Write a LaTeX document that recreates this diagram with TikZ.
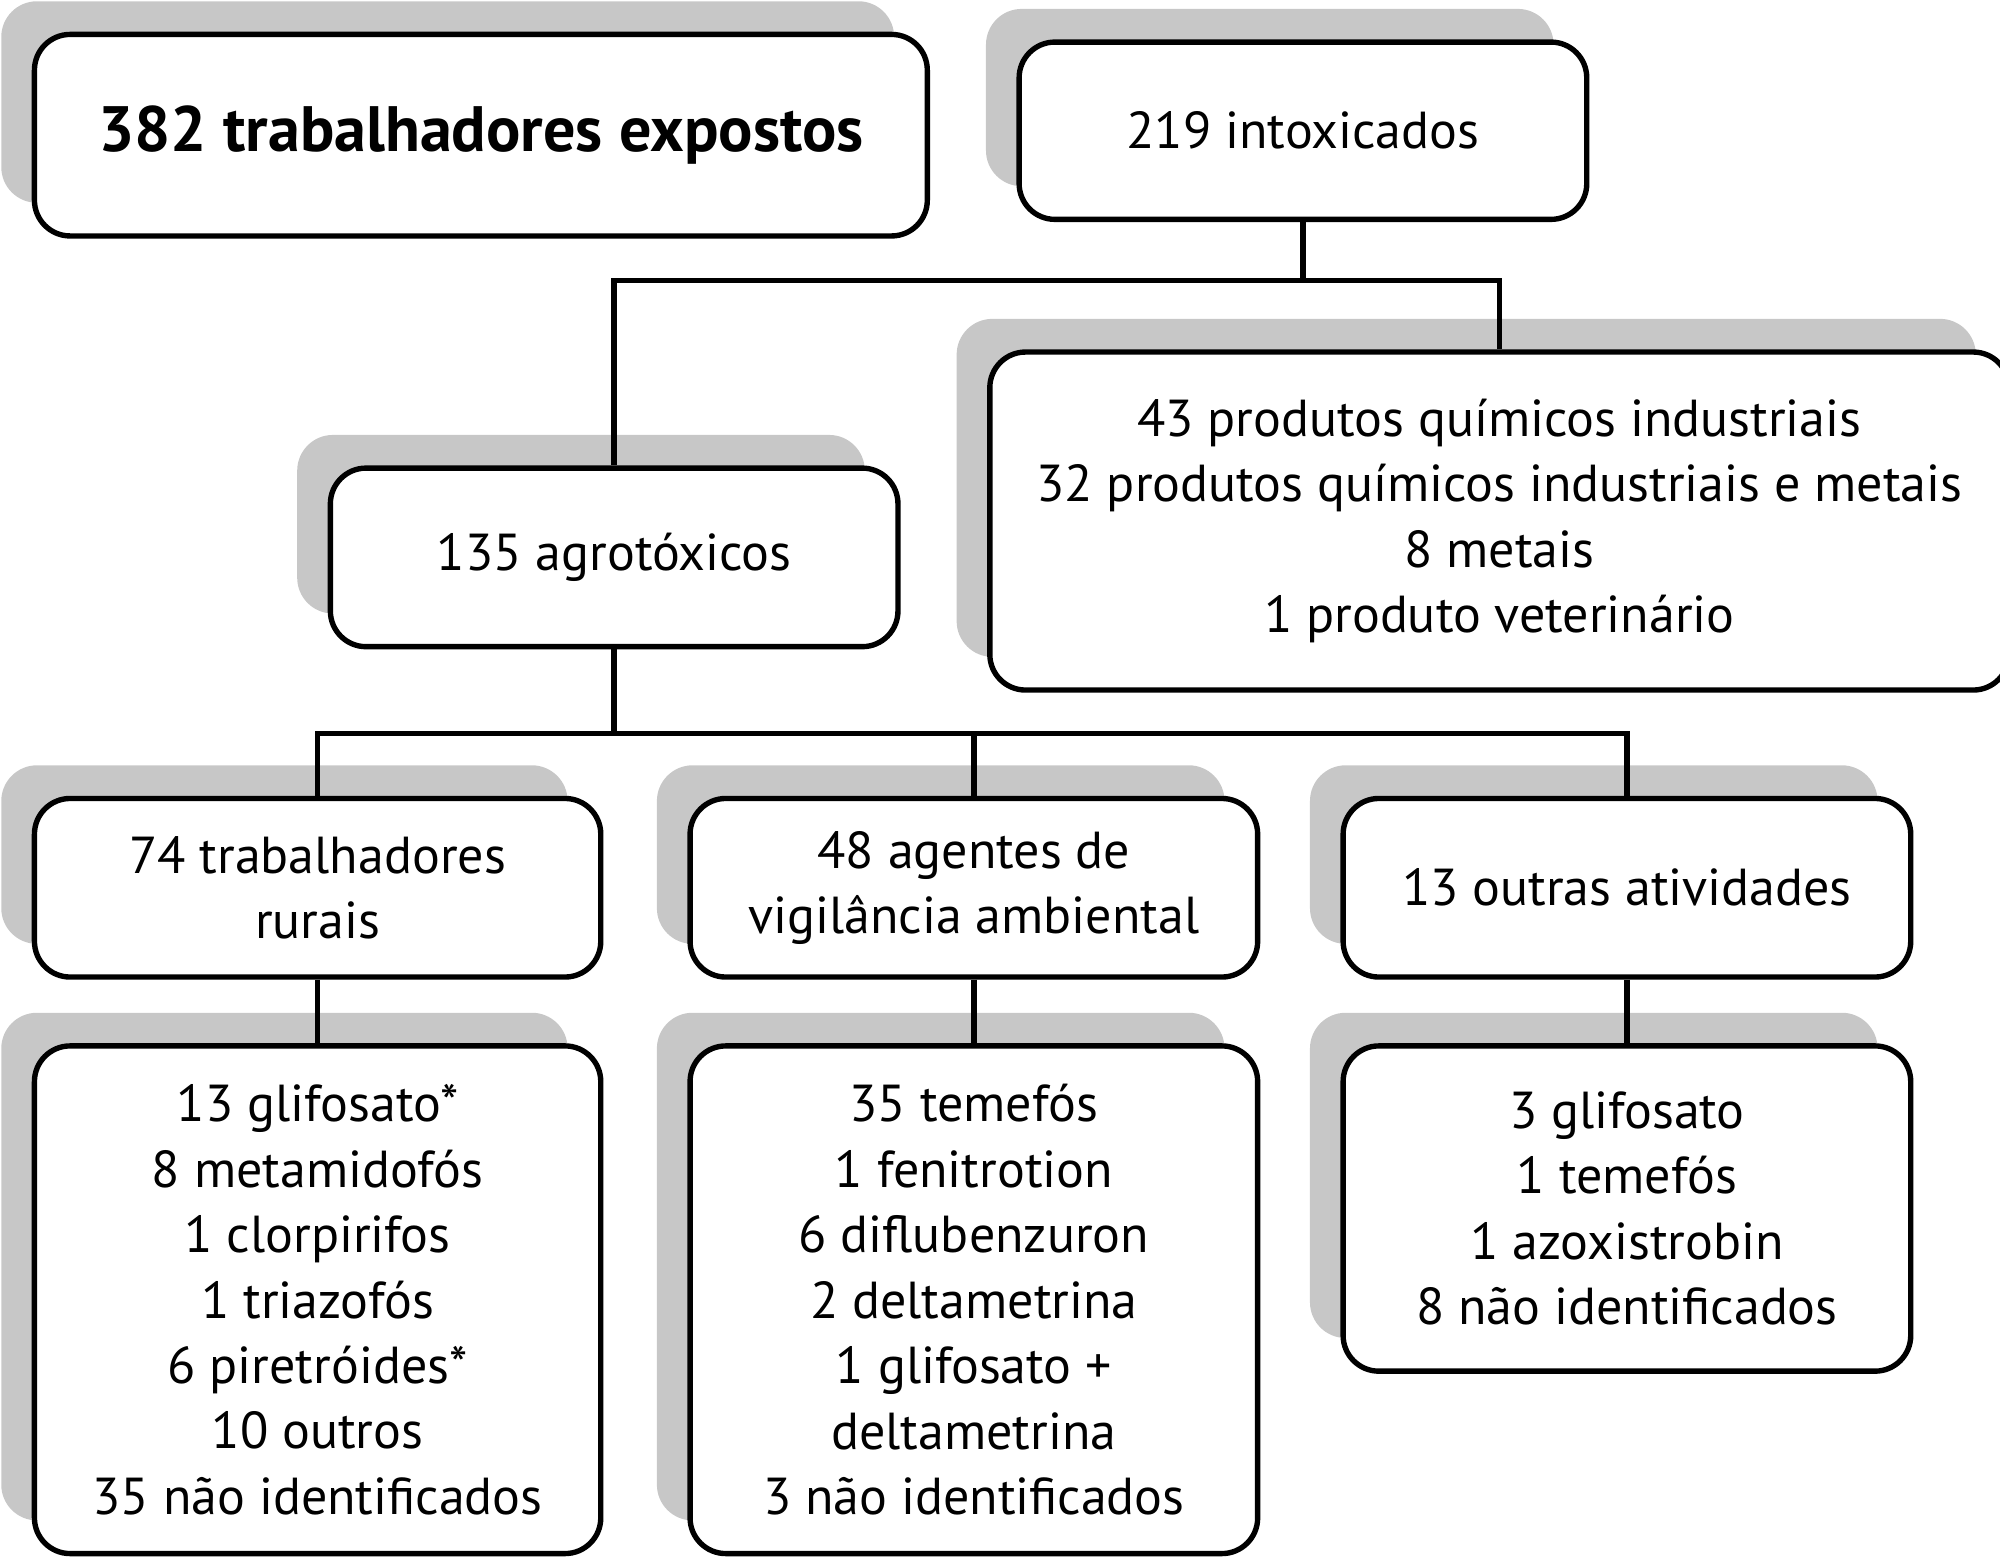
\documentclass[tikz,border=0pt]{standalone}
\usepackage{fontspec}
\setmainfont{PT Sans}
\usetikzlibrary{shadows}
\begin{document}
\begin{tikzpicture}[
    box/.style={draw, line width=1.2pt, rounded corners=0.28cm, fill=white, align=center,
      inner sep=0pt, font=\fontsize{11.6}{14.6}\selectfont,
      drop shadow={shadow xshift=-0.26cm, shadow yshift=0.26cm, fill=black!22, opacity=1}},
    link/.style={line width=1.2pt}
  ]
        \useasboundingbox (0,0) rectangle (15.68,-12.22);

        % ---------- top row ----------
        \node[box, minimum width=7cm, minimum height=1.58cm, font=\fontsize{14.3}{17}\selectfont\bfseries] (expostos) at (3.77,-1.06) {382 trabalhadores expostos};
        \node[box, minimum width=4.45cm, minimum height=1.39cm] (intox) at (10.215,-1.025) {219 intoxicados};

        % ---------- second level ----------
        \node[box, minimum width=7.99cm, minimum height=2.65cm] (quimicos) at (11.755,-4.085)
          {43 produtos químicos industriais\\32 produtos químicos industriais e metais\\8 metais\\1 produto veterinário};
        \node[box, minimum width=4.45cm, minimum height=1.40cm] (agro) at (4.815,-4.37) {135 agrotóxicos};

        % ---------- occupations ----------
        \node[box, minimum width=4.44cm, minimum height=1.40cm] (rurais) at (2.49,-6.96) {74 trabalhadores\\rurais};
        \node[box, minimum width=4.45cm, minimum height=1.40cm] (vigil) at (7.635,-6.96) {48 agentes de\\vigilância ambiental};
        \node[box, minimum width=4.45cm, minimum height=1.40cm] (outras) at (12.755,-6.96) {13 outras atividades};

        % ---------- products ----------
        \node[box, minimum width=4.44cm, minimum height=3.98cm] (prodR) at (2.49,-10.19)
          {13 glifosato*\\8 metamidofós\\1 clorpirifos\\1 triazofós\\6 piretróides*\\10 outros\\35 não identificados};
        \node[box, minimum width=4.45cm, minimum height=3.98cm] (prodV) at (7.635,-10.19)
          {35 temefós\\1 fenitrotion\\6 diflubenzuron\\2 deltametrina\\1 glifosato +\\deltametrina\\3 não identificados};
        \node[box, minimum width=4.45cm, minimum height=2.55cm] (prodO) at (12.755,-9.475)
          {3 glifosato\\1 temefós\\1 azoxistrobin\\8 não identificados};

        % ---------- connectors ----------
        \draw[link] (intox.south) -- ++(0,-0.46) coordinate (split1);
        \draw[link] (agro.north) |- (split1) -| (quimicos.north);
        \draw[link] (agro.south) -- ++(0,-0.66) coordinate (split2);
        \draw[link] (rurais.north) |- (split2) -| (outras.north);
        \draw[link] (vigil.north) -- (vigil.north |- split2);
        \draw[link] (rurais.south) -- (prodR.north);
        \draw[link] (vigil.south) -- (prodV.north);
        \draw[link] (outras.south) -- (prodO.north);

\end{tikzpicture}
\end{document}
